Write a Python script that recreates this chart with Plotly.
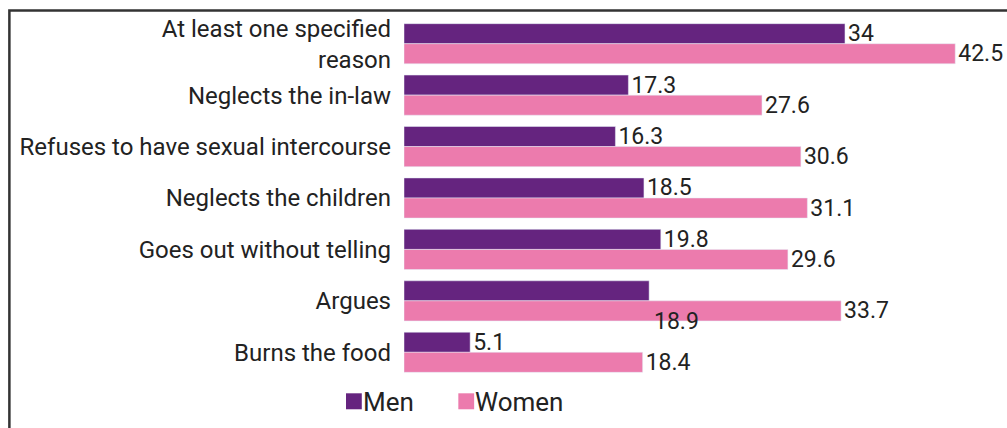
import plotly.graph_objects as go

categories = ["At least one specified<br>reason", "Neglects the in-law",
              "Refuses to have sexual intercourse", "Neglects the children",
              "Goes out without telling", "Argues", "Burns the food"]
men = [34, 17.3, 16.3, 18.5, 19.8, 18.9, 5.1]
women = [42.5, 27.6, 30.6, 31.1, 29.6, 33.7, 18.4]
series_names = ["Men", "Women"]

MEN_C = "#65247f"
WOMEN_C = "#ec7bad"
TXT = "#222222"

# the reference shows the Argues men label displaced below its bar
men_text = ["" if c == "Argues" else str(v) for c, v in zip(categories, men)]

fig = go.Figure()
fig.add_trace(go.Bar(y=categories, x=men, name=series_names[0], orientation="h",
                     marker_color=MEN_C, text=men_text, textposition="outside",
                     constraintext="none",
                     textfont=dict(size=23, color=TXT), cliponaxis=False))
fig.add_trace(go.Bar(y=categories, x=women, name=series_names[1], orientation="h",
                     marker_color=WOMEN_C, text=[str(v) for v in women],
                     textposition="outside", constraintext="none",
                     textfont=dict(size=23, color=TXT), cliponaxis=False))

ai = categories.index("Argues")
fig.add_annotation(x=men[ai], y=categories[ai], text=str(men[ai]),
                   showarrow=False, xanchor="left", xshift=3, yshift=-21,
                   font=dict(size=23, color=TXT))

# chart frame
fig.add_shape(type="path", xref="paper", yref="paper",
              path="M -0.661,-0.3 L -0.661,1.021 L 1.2,1.021",
              line=dict(color="#333333", width=2.5))

# legend (square swatch tight against its label, as in the reference)
for name, col, x0 in [(series_names[0], MEN_C, -0.0972), (series_names[1], WOMEN_C, 0.0910)]:
    fig.add_shape(type="rect", xref="paper", yref="paper",
                  x0=x0, x1=x0 + 0.0265, y0=-0.0869, y1=-0.0425,
                  fillcolor=col, line=dict(width=0))
    fig.add_annotation(xref="paper", yref="paper", x=x0 + 0.0265, y=-0.0667,
                       text=name, showarrow=False, xanchor="left", yanchor="middle",
                       font=dict(size=26, color=TXT), xshift=-1)

fig.update_layout(
    width=1007, height=428,
    margin=dict(l=404, r=6, t=18, b=50),
    paper_bgcolor="white", plot_bgcolor="white",
    font=dict(family="Roboto", color=TXT),
    barmode="group", bargap=0.22, bargroupgap=0,
    showlegend=False,
    xaxis=dict(range=[0, 46.03], showgrid=False, zeroline=False,
               showticklabels=False, showline=False),
    yaxis=dict(autorange="reversed", showgrid=False, showline=False,
               ticks="", tickfont=dict(size=24, color=TXT),
               ticklabelstandoff=12),
)

fig.write_html("out.html", config={"displayModeBar": False},
               post_script="document.body.style.margin='0';"
                           "document.body.style.overflow='hidden';")
